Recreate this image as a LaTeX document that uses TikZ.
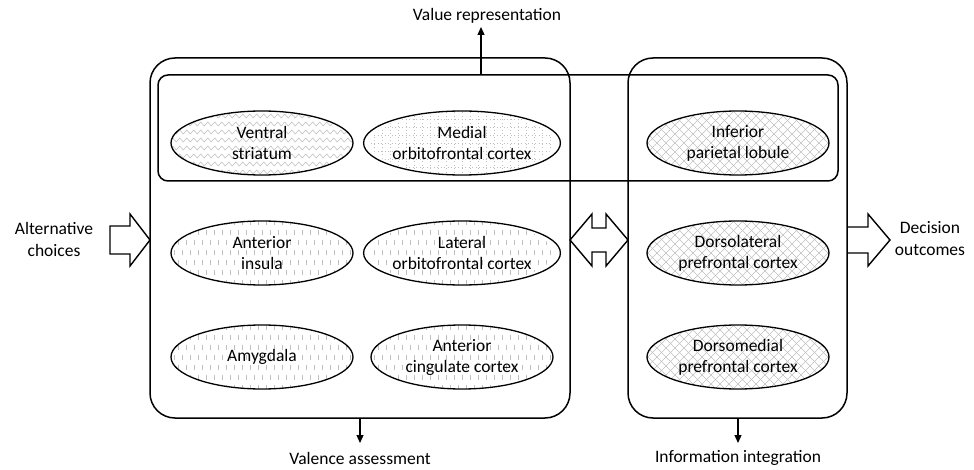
\documentclass[tikz,border=0pt]{standalone}
\usepackage{fontspec}
\setmainfont{Carlito}
\usetikzlibrary{arrows.meta,decorations.pathmorphing,shapes.geometric}

\tikzset{
 bigbox/.style={draw, line width=1.5pt, rounded corners=25pt, inner sep=0pt},
 innerbox/.style={draw, line width=1.5pt, rounded corners=10pt, inner sep=0pt},
 region/.style={draw, ellipse, line width=1.3pt, minimum width=182pt, minimum height=64pt, inner sep=0pt, align=center, font=\fontsize{17.5}{21}\selectfont},
 pat/.style={gray!50, line width=0.55pt},
 blockarrow/.style={draw, line width=1.4pt, line join=miter},
 lbl/.style={font=\fontsize{17.5}{22}\selectfont, align=center, inner sep=0pt},
 arr/.style={line width=1.2pt, -{Triangle[length=8pt,width=7pt]}},
}

\newcommand{\patdash}[2]{%
 \begin{scope}
 \clip (#1,#2) ellipse [x radius=91pt, y radius=32pt];
 \foreach \j in {-4,...,4}{%
   \foreach \i in {-12,...,12}{%
     \pgfmathsetmacro{\xx}{#1+8*\i+4*mod(abs(\j),2)}
     \draw[pat] (\xx,#2+10*\j-2.5) -- (\xx,#2+10*\j+2.5);
 }}
 \end{scope}}
\newcommand{\patcross}[2]{%
 \begin{scope}
 \clip (#1,#2) ellipse [x radius=91pt, y radius=32pt];
 \foreach \k in {-135,-126,...,135}{%
   \draw[pat] (#1+\k-40,#2-40) -- (#1+\k+40,#2+40);
   \draw[pat] (#1+\k+40,#2-40) -- (#1+\k-40,#2+40);
 }
 \end{scope}}
\newcommand{\patgrid}[2]{%
 \begin{scope}
 \clip (#1,#2) ellipse [x radius=91pt, y radius=32pt];
 \foreach \k in {-96,-88,...,96}{\draw[pat,dash pattern=on 1pt off 2.5pt] (#1+\k,#2-34) -- (#1+\k,#2+34);}
 \foreach \k in {-32,-24,...,32}{\draw[pat,dash pattern=on 1pt off 2.5pt] (#1-95,#2+\k) -- (#1+95,#2+\k);}
 \end{scope}}
\newcommand{\patzig}[2]{%
 \begin{scope}
 \clip (#1,#2) ellipse [x radius=91pt, y radius=32pt];
 \foreach \k in {-35,-27,...,35}{\draw[pat, decorate, decoration={zigzag,segment length=7pt,amplitude=2pt}] (#1-98,#2+\k) -- (#1+98,#2+\k);}
 \end{scope}}

\begin{document}
\begin{tikzpicture}[x=1pt,y=-1pt]
\useasboundingbox (0,0) rectangle (974,470);

% patterns
\patzig{262}{143}
\patgrid{462}{143}
\patcross{738}{143}
\patdash{262}{253}
\patdash{462}{253}
\patcross{738}{253}
\patdash{262}{357}
\patdash{462}{357}
\patcross{738}{357}

% boxes
\node[bigbox, minimum width=420pt, minimum height=360pt] (val) at (360,238) {};
\node[bigbox, minimum width=219pt, minimum height=360pt] (inf) at (737.5,238) {};
\node[innerbox, minimum width=680pt, minimum height=106pt] (vrep) at (498,128) {};

% regions
\node[region] (vs) at (262,143) {Ventral\\striatum};
\node[region] (mofc) at (462,143) {Medial\\orbitofrontal cortex};
\node[region] (ipl) at (738,143) {Inferior\\parietal lobule};
\node[region] (ai) at (262,253) {Anterior\\insula};
\node[region] (lofc) at (462,253) {Lateral\\orbitofrontal cortex};
\node[region] (dlpfc) at (738,253) {Dorsolateral\\prefrontal cortex};
\node[region] (amy) at (262,357) {Amygdala};
\node[region] (acc) at (462,357) {Anterior\\cingulate cortex};
\node[region] (dmpfc) at (738,357) {Dorsomedial\\prefrontal cortex};

% labels
\node[lbl] (alt) at (54,239) {Alternative\\choices};
\node[lbl] (dec) at (930,239) {Decision\\outcomes};
\node[lbl] (vr) at (487,16) {Value representation};
\node[lbl] (va) at (360,458) {Valence assessment};
\node[lbl] (ii) at (738,458) {Information integration};

% thin arrows
\coordinate (vrtop) at (481,27);
\coordinate (vabot) at (360,443);
\coordinate (iibot) at (738,443);
\draw[arr] (vrep.north -| vrtop) -- (vrtop);
\draw[arr] (val.south -| vabot) -- (vabot);
\draw[arr] (inf.south -| iibot) -- (iibot);

% block arrows
\draw[blockarrow] (110,226) -- (130,226) -- (130,214) -- (150,240) -- (130,266) -- (130,254) -- (110,254) -- cycle;
\draw[blockarrow] (570,240) -- (592,214) -- (592,228) -- (606,228) -- (606,214) -- (628,240) -- (606,266) -- (606,252) -- (592,252) -- (592,266) -- cycle;
\draw[blockarrow] (847,227) -- (868,227) -- (868,214) -- (890,240) -- (868,266) -- (868,253) -- (847,253);
\end{tikzpicture}
\end{document}
